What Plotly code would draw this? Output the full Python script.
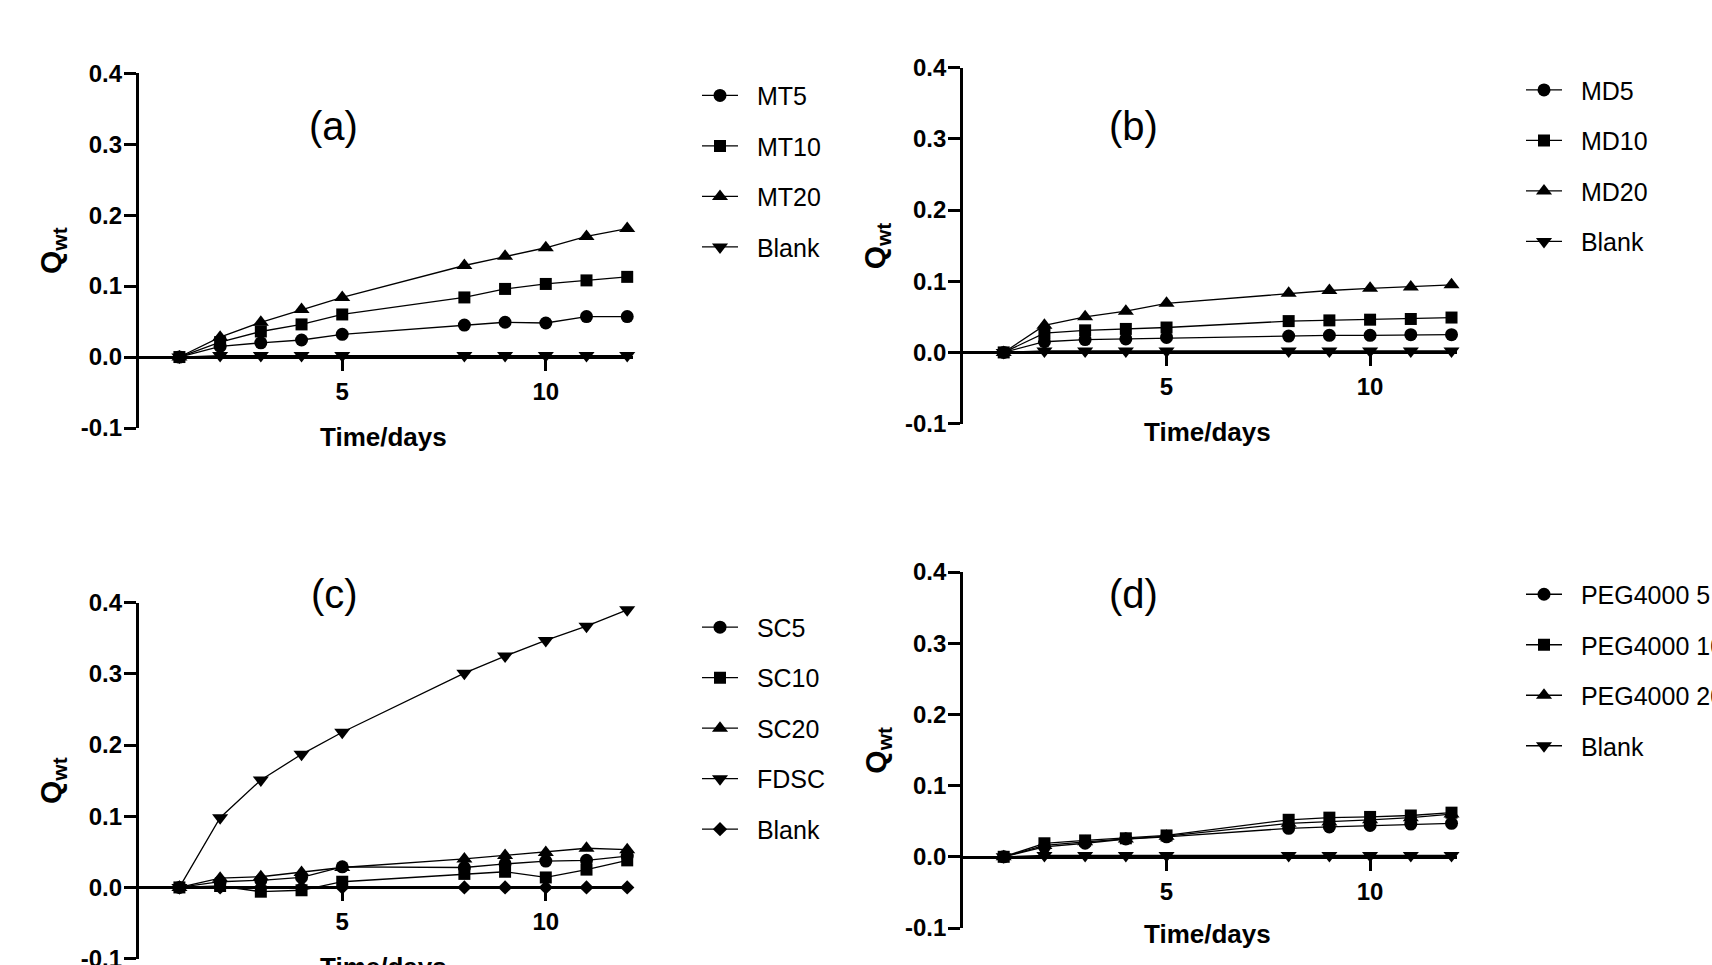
import plotly.graph_objects as go

# ---------------- data ----------------
days = [1, 2, 3, 4, 5, 8, 9, 10, 11, 12]

# (a)
mt_names = ["MT5", "MT10", "MT20", "Blank"]
mt5 = [0, 0.015, 0.020, 0.024, 0.032, 0.045, 0.049, 0.048, 0.057, 0.057]
mt10 = [0, 0.021, 0.036, 0.046, 0.060, 0.084, 0.096, 0.103, 0.108, 0.113]
mt20 = [0, 0.028, 0.049, 0.067, 0.084, 0.129, 0.142, 0.154, 0.170, 0.181]
mt_blank = [0, 0.002, 0.002, 0.002, 0.002, 0.002, 0.002, 0.002, 0.002, 0.002]

# (b)
md_names = ["MD5", "MD10", "MD20", "Blank"]
md5 = [0, 0.015, 0.018, 0.019, 0.021, 0.023, 0.024, 0.024, 0.025, 0.025]
md10 = [0, 0.027, 0.031, 0.033, 0.035, 0.044, 0.045, 0.046, 0.047, 0.049]
md20 = [0, 0.038, 0.050, 0.058, 0.069, 0.083, 0.087, 0.090, 0.092, 0.095]
md_blank = [0, 0.002, 0.002, 0.002, 0.002, 0.002, 0.002, 0.002, 0.002, 0.002]

# (c)
sc_names = ["SC5", "SC10", "SC20", "FDSC", "Blank"]
sc5 = [0, 0.008, 0.010, 0.014, 0.029, 0.028, 0.033, 0.037, 0.038, 0.044]
sc10 = [0, 0.002, -0.006, -0.004, 0.008, 0.019, 0.022, 0.014, 0.025, 0.038]
sc20 = [0, 0.013, 0.015, 0.021, 0.028, 0.040, 0.045, 0.049, 0.055, 0.053]
fdsc = [0, 0.098, 0.151, 0.187, 0.218, 0.301, 0.325, 0.347, 0.367, 0.390]
sc_blank = [0, 0, 0, 0, 0, 0, 0, 0, 0, 0]

# (d)
peg_names = ["PEG4000 5", "PEG4000 10", "PEG4000 20", "Blank"]
peg5 = [0, 0.014, 0.019, 0.025, 0.028, 0.040, 0.042, 0.044, 0.046, 0.047]
peg10 = [0, 0.019, 0.023, 0.026, 0.030, 0.052, 0.055, 0.056, 0.058, 0.062]
peg20 = [0, 0.016, 0.021, 0.025, 0.029, 0.047, 0.049, 0.052, 0.055, 0.060]
peg_blank = [0, 0.002, 0.002, 0.002, 0.002, 0.002, 0.002, 0.002, 0.002, 0.002]

panel_labels = ["(a)", "(b)", "(c)", "(d)"]
y_ticks = [-0.1, 0.0, 0.1, 0.2, 0.3, 0.4]
x_ticks = [5, 10]
x_title = "Time/days"
y_title = "Q<sub>wt</sub>"

# ---------------- layout helpers ----------------
W, H = 1712, 965
FONT = "Liberation Sans, Arial, sans-serif"
NBSP = "\u00a0\u00a0"


def px_x(x):
    return x / W


def px_y(y):
    return 1 - y / H


# pixel geometry of each panel: (x_left, x_right, y_top(0.4), y_bottom(-0.1))
geo = {
    1: (138.7, 632.5, 73.2, 428.0),
    2: (963.0, 1456.8, 67.7, 423.6),
    3: (138.7, 632.5, 602.7, 958.6),
    4: (963.0, 1456.8, 572.0, 928.0),
}
legend_pos = {1: (697.0, 97.2), 2: (1521.0, 91.7), 3: (697.0, 628.9), 4: (1521.0, 596.0)}
label_pos = {1: (333, 126.5), 2: (1133, 126.5), 3: (334, 594), 4: (1133, 594)}
xtitle_y = {1: 436.7, 2: 432.4, 3: 967.3, 4: 934.0}

SYMS4 = ["circle", "square", "triangle-up", "triangle-down"]
SIZES = {"circle": 13, "square": 12, "triangle-up": 14, "triangle-down": 14, "diamond": 11}

panels = [
    (1, list(zip(mt_names, [mt5, mt10, mt20, mt_blank], SYMS4))),
    (2, list(zip(md_names, [md5, md10, md20, md_blank], SYMS4))),
    (3, list(zip(sc_names, [sc5, sc10, sc20, fdsc, sc_blank],
                 ["circle", "square", "triangle-up", "triangle-down", "diamond"]))),
    (4, list(zip(peg_names, [peg5, peg10, peg20, peg_blank], SYMS4))),
]

fig = go.Figure()
layout = dict(
    width=W, height=H,
    margin=dict(l=0, r=0, t=0, b=0, autoexpand=False),
    paper_bgcolor="white", plot_bgcolor="white",
    showlegend=True,
    font=dict(family=FONT, color="black"),
)
annotations = []

for idx, series in panels:
    xl, xr, yt, yb = geo[idx]
    sfx = "" if idx == 1 else str(idx)
    leg = "legend" if idx == 1 else "legend%d" % idx
    for k, (name, vals, sym) in enumerate(series):
        fig.add_trace(go.Scatter(
            x=days, y=vals, name=NBSP + name, mode="lines+markers",
            xaxis="x" + sfx, yaxis="y" + sfx,
            line=dict(color="black", width=1.3),
            marker=dict(symbol=sym, size=SIZES[sym], color="black", line=dict(width=0)),
            legend=leg, legendgroup="g%d_%d" % (idx, k),
            cliponaxis=False,
        ))
    y0 = px_y(yb)
    y1 = px_y(yt)
    zero_pos = y0 + (y1 - y0) * 0.2
    layout["xaxis" + sfx] = dict(
        domain=[px_x(xl), px_x(xr)], range=[0, 12.13],
        anchor="free", position=zero_pos,
        showline=True, linecolor="black", linewidth=2.8,
        ticks="outside", ticklen=12, tickwidth=2.8, tickcolor="black",
        tickvals=x_ticks, ticktext=[str(v) for v in x_ticks],
        tickfont=dict(family=FONT, size=24, color="black", weight="bold"),
        ticklabelstandoff=0, ticklabeloverflow="allow",
        showgrid=False, zeroline=False,
    )
    layout["yaxis" + sfx] = dict(
        domain=[y0, y1], range=[-0.1, 0.4], anchor="x" + sfx,
        showline=True, linecolor="black", linewidth=2.8,
        ticks="outside", ticklen=12, tickwidth=2.8, tickcolor="black",
        tickvals=y_ticks, ticktext=["%.1f" % v for v in y_ticks],
        tickfont=dict(family=FONT, size=24, color="black", weight="bold"),
        ticklabelstandoff=-3, ticklabeloverflow="allow",
        showgrid=False, zeroline=False,
    )
    lx, ly = legend_pos[idx]
    layout[leg] = dict(
        x=px_x(lx), y=px_y(ly - 24.5), xanchor="left", yanchor="top",
        bgcolor="rgba(0,0,0,0)", borderwidth=0,
        font=dict(family=FONT, size=25, color="black"),
        itemwidth=36, traceorder="grouped", tracegroupgap=15,
    )
    # panel label
    px_, py_ = label_pos[idx]
    annotations.append(dict(
        text=panel_labels[idx - 1], x=px_x(px_), y=px_y(py_), xref="paper", yref="paper",
        showarrow=False, xanchor="center", yanchor="middle",
        font=dict(family=FONT, size=40, color="black"),
    ))
    # y title
    annotations.append(dict(
        text=y_title, x=px_x(xl - 86.3), y=px_y((yt + yb) / 2), xref="paper", yref="paper",
        showarrow=False, xanchor="center", yanchor="middle", textangle=-90,
        font=dict(family=FONT, size=30, color="black", weight="bold"),
    ))
    # x title
    annotations.append(dict(
        text=x_title, x=px_x(xl + (xr - xl) * 0.495), y=px_y(xtitle_y[idx]),
        xref="paper", yref="paper",
        showarrow=False, xanchor="center", yanchor="middle",
        font=dict(family=FONT, size=26, color="black", weight="bold"),
    ))

layout["annotations"] = annotations
fig.update_layout(**layout)
fig.write_html(
    "out.html",
    config={"displayModeBar": False},
    post_script="document.body.style.margin='0';document.body.style.overflow='hidden';",
)
